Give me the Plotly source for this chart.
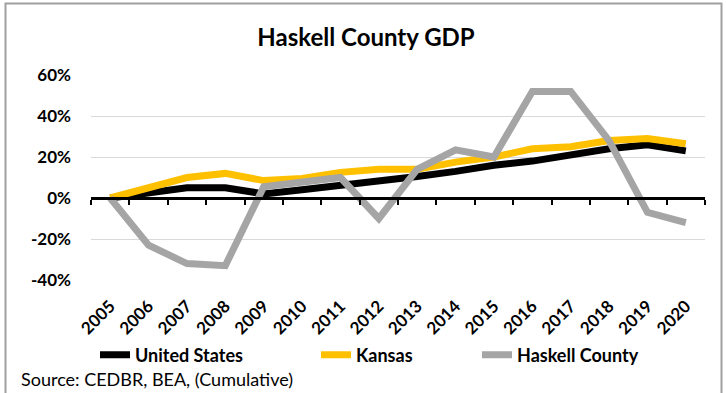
import plotly.graph_objects as go

years = [str(y) for y in range(2005, 2021)]
united_states = [0, 2.5, 5, 5, 2, 4, 6, 8, 10.5, 13, 16, 18, 21, 24, 26, 23]
kansas = [0, 5, 10, 12, 8.5, 9.5, 12.5, 14, 14, 17.5, 20, 24, 25, 28, 29, 26.5]
haskell = [0, -23, -32, -33, 5.5, 8, 10, -10, 14, 23.5, 20, 52, 52, 28, -7, -12]
y_ticks = [-40, -20, 0, 20, 40, 60]
y_tick_labels = ["-40%", "-20%", "0%", "20%", "40%", "60%"]

FONT = "Lato"
L, R, T, B = 91, 21, 75, 113
W, H = 726, 393
pw, ph = W - L - R, H - T - B


def px(x):
    return (x - L) / pw


def py(y):
    return (T + ph - y) / ph


fig = go.Figure()
# invisible trace to carry the zero-axis (ticks at category boundaries)
fig.add_trace(go.Scatter(x=years, y=united_states, xaxis="x2", mode="lines",
                         line=dict(width=0, color="rgba(0,0,0,0)"),
                         showlegend=False, hoverinfo="skip"))
fig.add_trace(go.Scatter(x=years, y=united_states, name="<b>United States</b>", mode="lines",
                         line=dict(color="#000000", width=7), legend="legend"))
fig.add_trace(go.Scatter(x=years, y=kansas, name="<b>Kansas</b>", mode="lines",
                         line=dict(color="#FFC000", width=7), legend="legend2"))
fig.add_trace(go.Scatter(x=years, y=haskell, name="<b>Haskell County</b>", mode="lines",
                         line=dict(color="#A5A5A5", width=7), legend="legend3"))

leg_common = dict(orientation="h", xanchor="left", yanchor="middle", y=py(355),
                  font=dict(size=18, family=FONT), bgcolor="rgba(0,0,0,0)")

fig.update_layout(
    width=W, height=H,
    margin=dict(l=L, r=R, t=T, b=B, autoexpand=False),
    paper_bgcolor="white", plot_bgcolor="white",
    font=dict(family=FONT, color="#000000"),
    title=dict(text="<b>Haskell County GDP</b>", x=366 / W, xanchor="center",
               y=1 - 38 / H, yanchor="middle", font=dict(size=24, family=FONT)),
    showlegend=True,
    legend=dict(x=px(95), **leg_common),
    legend2=dict(x=px(316), **leg_common),
    legend3=dict(x=px(477), **leg_common),
    xaxis=dict(type="category", categoryorder="array", categoryarray=years,
               range=[-0.5, 15.5], showgrid=False, showline=False, zeroline=False,
               ticks="", tickangle=-45, tickfont=dict(size=17, family=FONT),
               tickprefix="<b>", ticksuffix="</b>", ticklabelstandoff=12),
    xaxis2=dict(type="category", categoryorder="array", categoryarray=years,
                range=[-0.5, 15.5], overlaying="x", anchor="free", position=0.4,
                side="bottom", showline=True, linecolor="#000000", linewidth=2.5,
                ticks="outside", tickson="boundaries", ticklen=5, tickwidth=2,
                tickcolor="#000000", showticklabels=False, showgrid=False, zeroline=False),
    yaxis=dict(range=[-40, 60], tickvals=y_ticks,
               ticktext=["<b>%s</b>" % t for t in y_tick_labels],
               showgrid=True, gridcolor="#D9D9D9", gridwidth=1, zeroline=False,
               showline=False, ticks="", tickfont=dict(size=17, family=FONT),
               ticklabelstandoff=19, domain=[0, 1]),
    annotations=[dict(text="Source: CEDBR, BEA, (Cumulative)", xref="paper", yref="paper",
                      x=px(19), xanchor="left", y=py(379), yanchor="middle",
                      showarrow=False, font=dict(size=18, family=FONT))],
    shapes=[dict(type="rect", xref="paper", yref="paper",
                 x0=px(5.5), x1=px(721.5), y0=py(410), y1=py(3.5),
                 line=dict(color="#A0A0A0", width=2), layer="below")],
)

fig.write_html("out.html", config={"displayModeBar": False},
               post_script="document.body.style.margin='0';document.body.style.overflow='hidden';")
